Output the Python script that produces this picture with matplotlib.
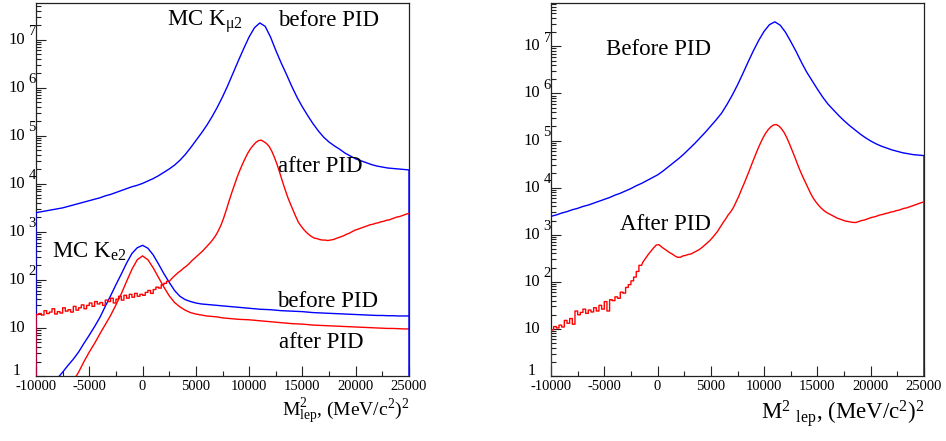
import numpy as np
import matplotlib
matplotlib.use("Agg")
import matplotlib.pyplot as plt
from matplotlib.ticker import MultipleLocator, LogLocator, NullFormatter

plt.rcParams['font.family'] = ['Liberation Serif', 'DejaVu Serif']
plt.rcParams['mathtext.fontset'] = 'custom'
plt.rcParams['mathtext.rm'] = 'Liberation Serif'
plt.rcParams['mathtext.it'] = 'Liberation Serif:italic'
plt.rcParams['mathtext.bf'] = 'Liberation Serif:bold'
plt.rcParams['axes.unicode_minus'] = False

X_MIN, X_MAX = -10000, 25000
x_ticks = [-10000, -5000, 0, 5000, 10000, 15000, 20000, 25000]

# ---- data: log10(counts) ----
# smooth curves sampled every 500 (MeV/c^2)^2 from -10000 to 25000
kmu2_before_log = [
    3.40, 3.42, 3.44, 3.46, 3.48, 3.50, 3.53, 3.56, 3.59, 3.62,
    3.65, 3.68, 3.71, 3.75, 3.78, 3.82, 3.86, 3.90, 3.94, 3.97,
    4.01, 4.06, 4.11, 4.17, 4.24, 4.31, 4.39, 4.49, 4.61, 4.75,
    4.90, 5.05, 5.21, 5.39, 5.59, 5.81, 6.05, 6.31, 6.57, 6.82,
    7.06, 7.25, 7.35, 7.28, 7.06, 6.78, 6.52, 6.28, 6.03, 5.80,
    5.60, 5.42, 5.25, 5.10, 4.97, 4.87, 4.79, 4.72, 4.64, 4.58,
    4.52, 4.48, 4.44, 4.40, 4.37, 4.35, 4.33, 4.32, 4.31, 4.30,
    4.29]
ke2_before_log = [
    -0.8, -0.6, -0.4, -0.25, -0.05, 0.08, 0.22, 0.35, 0.50, 0.68,
    0.85, 1.03, 1.22, 1.45, 1.67, 1.90, 2.12, 2.35, 2.55, 2.67,
    2.72, 2.66, 2.52, 2.33, 2.13, 1.95, 1.78, 1.66, 1.59, 1.55,
    1.52, 1.50, 1.49, 1.48, 1.47, 1.46, 1.45, 1.44, 1.43, 1.42,
    1.41, 1.40, 1.39, 1.385, 1.38, 1.37, 1.36, 1.355, 1.35, 1.345,
    1.34, 1.33, 1.32, 1.315, 1.31, 1.305, 1.30, 1.295, 1.29, 1.285,
    1.28, 1.275, 1.27, 1.265, 1.26, 1.26, 1.255, 1.255, 1.25, 1.25,
    1.25]
ke2_after_log = [
    -1.5, -1.3, -1.1, -0.9, -0.7, -0.5, -0.3, -0.1, 0.08, 0.30,
    0.50, 0.68, 0.88, 1.07, 1.26, 1.48, 1.71, 1.97, 2.22, 2.42,
    2.50, 2.42, 2.25, 2.05, 1.85, 1.67, 1.53, 1.44, 1.37, 1.32,
    1.29, 1.27, 1.25, 1.24, 1.23, 1.21, 1.20, 1.19, 1.18, 1.175,
    1.17, 1.16, 1.15, 1.14, 1.13, 1.12, 1.11, 1.10, 1.09, 1.085,
    1.08, 1.07, 1.06, 1.055, 1.05, 1.045, 1.04, 1.035, 1.03, 1.025,
    1.02, 1.015, 1.01, 1.005, 1.00, 0.995, 0.99, 0.99, 0.985, 0.98,
    0.98]
all_before_log = [
    3.39, 3.42, 3.46, 3.49, 3.53, 3.56, 3.60, 3.63, 3.67, 3.71,
    3.75, 3.79, 3.84, 3.88, 3.93, 3.98, 4.04, 4.09, 4.15, 4.21,
    4.27, 4.35, 4.44, 4.53, 4.62, 4.72, 4.83, 4.94, 5.06, 5.18,
    5.31, 5.44, 5.58, 5.76, 5.96, 6.18, 6.42, 6.67, 6.91, 7.13,
    7.32, 7.46, 7.52, 7.45, 7.30, 7.10, 6.89, 6.66, 6.45, 6.27,
    6.09, 5.92, 5.77, 5.65, 5.53, 5.42, 5.32, 5.23, 5.14, 5.06,
    4.99, 4.93, 4.88, 4.84, 4.80, 4.77, 4.74, 4.72, 4.70, 4.69,
    4.68]
# histograms with 250-wide bins from -10000 to 25000
kmu2_after_log = [
    1.28, 1.30, 1.27, 1.36, 1.30, 1.33, 1.40, 1.29, 1.34, 1.31,
    1.42, 1.35, 1.38, 1.33, 1.45, 1.37, 1.42, 1.48, 1.40, 1.47,
    1.52, 1.45, 1.55, 1.50, 1.53, 1.47, 1.58, 1.55, 1.62, 1.52,
    1.60, 1.66, 1.58, 1.68, 1.62, 1.70, 1.64, 1.72, 1.66, 1.70,
    1.68, 1.74, 1.78, 1.72, 1.80, 1.85, 1.83, 1.90, 1.93, 1.97,
    2.00, 2.06, 2.11, 2.16, 2.20, 2.25, 2.29, 2.34, 2.40, 2.45,
    2.50, 2.55, 2.60, 2.66, 2.72, 2.78, 2.85, 2.93, 3.03, 3.15,
    3.30, 3.47, 3.65, 3.82, 3.98, 4.14, 4.28, 4.41, 4.53, 4.64,
    4.73, 4.80, 4.86, 4.90, 4.91, 4.88, 4.84, 4.78, 4.68, 4.55,
    4.40, 4.23, 4.05, 3.88, 3.72, 3.58, 3.45, 3.32, 3.20, 3.12,
    3.05, 2.99, 2.94, 2.90, 2.87, 2.86, 2.84, 2.83, 2.83, 2.82,
    2.83, 2.84, 2.86, 2.88, 2.90, 2.92, 2.95, 2.97, 3.00, 3.03,
    3.05, 3.07, 3.09, 3.11, 3.13, 3.15, 3.16, 3.18, 3.19, 3.21,
    3.22, 3.24, 3.25, 3.27, 3.29, 3.31, 3.32, 3.34, 3.36, 3.38]
all_after_log = [
    0.98, 1.05, 1.02, 1.08, 1.04, 1.18, 1.12, 1.22, 1.10, 1.38,
    1.30, 1.35, 1.42, 1.33, 1.40, 1.36, 1.45, 1.38, 1.50, 1.42,
    1.58, 1.38, 1.62, 1.60, 1.68, 1.65, 1.78, 1.76, 1.88, 1.94,
    2.02, 2.10, 2.22, 2.35, 2.42, 2.50, 2.58, 2.65, 2.72, 2.78,
    2.79, 2.74, 2.70, 2.66, 2.62, 2.59, 2.55, 2.52, 2.52, 2.55,
    2.56, 2.58, 2.59, 2.62, 2.65, 2.68, 2.72, 2.77, 2.82, 2.87,
    2.93, 3.00, 3.07, 3.16, 3.25, 3.33, 3.42, 3.49, 3.58, 3.70,
    3.82, 3.96, 4.09, 4.23, 4.37, 4.52, 4.66, 4.80, 4.93, 5.05,
    5.15, 5.23, 5.29, 5.33, 5.34, 5.31, 5.25, 5.17, 5.06, 4.93,
    4.79, 4.65, 4.50, 4.36, 4.23, 4.11, 3.99, 3.87, 3.77, 3.69,
    3.62, 3.56, 3.51, 3.47, 3.44, 3.41, 3.38, 3.35, 3.33, 3.31,
    3.29, 3.28, 3.27, 3.26, 3.26, 3.28, 3.30, 3.31, 3.33, 3.35,
    3.37, 3.38, 3.40, 3.42, 3.43, 3.45, 3.46, 3.48, 3.49, 3.51,
    3.52, 3.54, 3.56, 3.57, 3.59, 3.61, 3.63, 3.65, 3.67, 3.69]

BLUE = '#0000ff'
RED = '#ff0000'
FLOOR = 1e-3
LW = 1.0


def smooth_curve(ax, logvals, color, verticals=True, z=3):
    v = 10.0 ** np.asarray(logvals)
    x = np.linspace(X_MIN, X_MAX, len(v))
    if verticals:
        x = np.concatenate([[x[0]], x, [x[-1]]])
        v = np.concatenate([[FLOOR], v, [FLOOR]])
    ax.plot(x, v, color=color, lw=LW, zorder=z)


def hist_curve(ax, logvals, color, split, z=4):
    """Stepped outline where the histogram is noisy (centres < split),
    a line through bin centres where it is smooth."""
    v = 10.0 ** np.asarray(logvals)
    edges = np.linspace(X_MIN, X_MAX, len(v) + 1)
    centers = 0.5 * (edges[:-1] + edges[1:])
    n_step = int(np.searchsorted(centers, split))
    xs = [edges[0]]
    ys = [FLOOR]
    for i in range(n_step):
        xs += [edges[i], edges[i + 1]]
        ys += [v[i], v[i]]
    xs += list(centers[n_step:]) + [edges[-1]]
    ys += list(v[n_step:]) + [v[-1]]
    ax.plot(xs, ys, color=color, lw=LW, zorder=z)


def style_axis(ax, ymax_log):
    ax.set_yscale('log')
    ax.set_xlim(X_MIN, X_MAX)
    ax.set_ylim(1, 10 ** ymax_log)
    ax.set_xticks(x_ticks)
    ax.xaxis.set_minor_locator(MultipleLocator(2500))
    ax.set_xticklabels([str(t) for t in x_ticks], fontsize=10.5)
    ax.yaxis.set_major_locator(LogLocator(base=10, numticks=20))
    ax.yaxis.set_minor_locator(LogLocator(base=10, subs=np.arange(2, 10), numticks=20))
    ax.yaxis.set_major_formatter(NullFormatter())
    ax.yaxis.set_minor_formatter(NullFormatter())
    ax.tick_params(which='both', direction='in', top=False, right=False,
                   width=0.8, colors='#222222')
    ax.tick_params(which='major', length=7, pad=3)
    ax.tick_params(which='minor', length=3.5)
    ax.tick_params(axis='x', labelcolor='black')
    for s in ax.spines.values():
        s.set_linewidth(0.9)
        s.set_color('#222222')
        s.set_zorder(2)
    # y tick labels in the "10 ^n" style
    top = int(np.floor(ymax_log))
    for k in range(0, top + 1):
        if k == 0:
            ax.annotate('1', xy=(0, 1), xycoords=('axes fraction', 'data'),
                        xytext=(-15, 5), textcoords='offset pixels',
                        ha='right', va='center', fontsize=11.5)
        else:
            ax.annotate('10', xy=(0, 10 ** k), xycoords=('axes fraction', 'data'),
                        xytext=(-11, 0), textcoords='offset pixels',
                        ha='right', va='center', fontsize=12)
            if k >= 2:
                ax.annotate(str(k), xy=(0, 10 ** k), xycoords=('axes fraction', 'data'),
                            xytext=(-7.5, 8), textcoords='offset pixels',
                            ha='left', va='center', fontsize=10.5)


fig = plt.figure(figsize=(9.46, 4.41), dpi=100)
ax1 = fig.add_axes([36 / 946, 65 / 441, 373 / 946, 373 / 441])
ax2 = fig.add_axes([551 / 946, 65 / 441, 373 / 946, 373 / 441])

# ---- left panel ----
style_axis(ax1, 7.765)
smooth_curve(ax1, ke2_before_log, BLUE, verticals=False, z=3)
smooth_curve(ax1, ke2_after_log, RED, verticals=False, z=3)
smooth_curve(ax1, kmu2_before_log, BLUE, verticals=True, z=3)
hist_curve(ax1, kmu2_after_log, RED, split=2500, z=4)

fs = 16.5
ax1.text(0.351, 0.938, r'MC K$_{\mathregular{μ2}}$', transform=ax1.transAxes,
         ha='left', va='baseline', fontsize=fs)
ax1.text(0.649, 0.938, 'before PID', transform=ax1.transAxes,
         ha='left', va='baseline', fontsize=fs)
ax1.text(0.649, 0.547, 'after PID', transform=ax1.transAxes,
         ha='left', va='baseline', fontsize=fs)
ax1.text(0.043, 0.316, r'MC K$_{\mathregular{e2}}$', transform=ax1.transAxes,
         ha='left', va='baseline', fontsize=fs)
ax1.text(0.646, 0.185, 'before PID', transform=ax1.transAxes,
         ha='left', va='baseline', fontsize=fs)
ax1.text(0.651, 0.075, 'after PID', transform=ax1.transAxes,
         ha='left', va='baseline', fontsize=fs)
ax1.text(1.0, -0.107, r'M$^{\mathregular{2}}_{\mathregular{lep}}$, (MeV/c$^{\mathregular{2}}$)$^{\mathregular{2}}$',
         transform=ax1.transAxes, ha='right', va='baseline', fontsize=14)

# ---- right panel ----
style_axis(ax2, 7.92)
smooth_curve(ax2, all_before_log, BLUE, verticals=True, z=3)
hist_curve(ax2, all_after_log, RED, split=-1500, z=4)

ax2.text(0.147, 0.861, 'Before PID', transform=ax2.transAxes,
         ha='left', va='baseline', fontsize=fs)
ax2.text(0.185, 0.391, 'After PID', transform=ax2.transAxes,
         ha='left', va='baseline', fontsize=fs)
ax2.text(1.0, -0.115, r'M$^{\mathregular{2}}$ $_{\mathregular{lep}}$, (MeV/c$^{\mathregular{2}}$)$^{\mathregular{2}}$',
         transform=ax2.transAxes, ha='right', va='baseline', fontsize=16.5)

fig.savefig('out.png', dpi=100)
